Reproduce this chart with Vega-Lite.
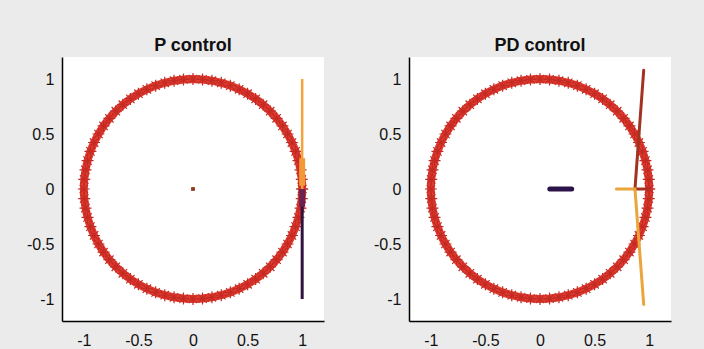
{
  "$schema": "https://vega.github.io/schema/vega-lite/v6.json",
  "background": "#ebebeb",
  "padding": {"left": 22, "top": 37, "right": 34, "bottom": 4},
  "config": {
    "font": "Liberation Sans",
    "view": {"fill": "white", "stroke": null},
    "title": {"fontSize": 18, "fontWeight": "bold", "color": "#111111", "offset": 2, "font": "Liberation Sans"},
    "axis": {"grid": false, "ticks": false, "domainColor": "#000000", "domainWidth": 1.5, "labelColor": "#111111", "labelFontSize": 16, "labelFont": "Liberation Sans", "title": null, "values": [-1, -0.5, 0, 0.5, 1], "labelExpr": "'' + datum.value"},
    "axisY": {"labelPadding": 8, "minExtent": 40, "maxExtent": 40},
    "axisX": {"labelPadding": 11}
  },
  "resolve": {"scale": {"color": "independent", "strokeWidth": "independent"}},
  "datasets": {
    "circle": [
      {"i":0,"x":1,"y":0},{"i":1,"x":0.9962,"y":0.0872},{"i":2,"x":0.9848,"y":0.1736},{"i":3,"x":0.9659,"y":0.2588},{"i":4,"x":0.9397,"y":0.342},{"i":5,"x":0.9063,"y":0.4226},{"i":6,"x":0.866,"y":0.5},{"i":7,"x":0.8192,"y":0.5736},{"i":8,"x":0.766,"y":0.6428},{"i":9,"x":0.7071,"y":0.7071},{"i":10,"x":0.6428,"y":0.766},{"i":11,"x":0.5736,"y":0.8192},{"i":12,"x":0.5,"y":0.866},{"i":13,"x":0.4226,"y":0.9063},{"i":14,"x":0.342,"y":0.9397},{"i":15,"x":0.2588,"y":0.9659},{"i":16,"x":0.1736,"y":0.9848},{"i":17,"x":0.0872,"y":0.9962},{"i":18,"x":0,"y":1},
      {"i":19,"x":-0.0872,"y":0.9962},{"i":20,"x":-0.1736,"y":0.9848},{"i":21,"x":-0.2588,"y":0.9659},{"i":22,"x":-0.342,"y":0.9397},{"i":23,"x":-0.4226,"y":0.9063},{"i":24,"x":-0.5,"y":0.866},{"i":25,"x":-0.5736,"y":0.8192},{"i":26,"x":-0.6428,"y":0.766},{"i":27,"x":-0.7071,"y":0.7071},{"i":28,"x":-0.766,"y":0.6428},{"i":29,"x":-0.8192,"y":0.5736},{"i":30,"x":-0.866,"y":0.5},{"i":31,"x":-0.9063,"y":0.4226},{"i":32,"x":-0.9397,"y":0.342},{"i":33,"x":-0.9659,"y":0.2588},{"i":34,"x":-0.9848,"y":0.1736},{"i":35,"x":-0.9962,"y":0.0872},{"i":36,"x":-1,"y":0},
      {"i":37,"x":-0.9962,"y":-0.0872},{"i":38,"x":-0.9848,"y":-0.1736},{"i":39,"x":-0.9659,"y":-0.2588},{"i":40,"x":-0.9397,"y":-0.342},{"i":41,"x":-0.9063,"y":-0.4226},{"i":42,"x":-0.866,"y":-0.5},{"i":43,"x":-0.8192,"y":-0.5736},{"i":44,"x":-0.766,"y":-0.6428},{"i":45,"x":-0.7071,"y":-0.7071},{"i":46,"x":-0.6428,"y":-0.766},{"i":47,"x":-0.5736,"y":-0.8192},{"i":48,"x":-0.5,"y":-0.866},{"i":49,"x":-0.4226,"y":-0.9063},{"i":50,"x":-0.342,"y":-0.9397},{"i":51,"x":-0.2588,"y":-0.9659},{"i":52,"x":-0.1736,"y":-0.9848},{"i":53,"x":-0.0872,"y":-0.9962},{"i":54,"x":0,"y":-1},
      {"i":55,"x":0.0872,"y":-0.9962},{"i":56,"x":0.1736,"y":-0.9848},{"i":57,"x":0.2588,"y":-0.9659},{"i":58,"x":0.342,"y":-0.9397},{"i":59,"x":0.4226,"y":-0.9063},{"i":60,"x":0.5,"y":-0.866},{"i":61,"x":0.5736,"y":-0.8192},{"i":62,"x":0.6428,"y":-0.766},{"i":63,"x":0.7071,"y":-0.7071},{"i":64,"x":0.766,"y":-0.6428},{"i":65,"x":0.8192,"y":-0.5736},{"i":66,"x":0.866,"y":-0.5},{"i":67,"x":0.9063,"y":-0.4226},{"i":68,"x":0.9397,"y":-0.342},{"i":69,"x":0.9659,"y":-0.2588},{"i":70,"x":0.9848,"y":-0.1736},{"i":71,"x":0.9962,"y":-0.0872},{"i":72,"x":1,"y":0}
    ],
    "pTraj": [
      {"s":"orange","o":0,"x":1.0,"y":1.0},{"s":"orange","o":1,"x":1.0,"y":0.0},
      {"s":"orangeDense","o":0,"x":1.0,"y":0.28},{"s":"orangeDense","o":1,"x":1.0,"y":0.03},
      {"s":"purple","o":0,"x":1.0,"y":0.0},{"s":"purple","o":1,"x":1.0,"y":-1.0},
      {"s":"purpleDense","o":0,"x":1.0,"y":0.0},{"s":"purpleDense","o":1,"x":1.0,"y":-0.16}
    ],
    "pOrigin": [{"x":0,"y":0}],
    "pdTraj": [
      {"s":"purple","o":0,"x":0.09,"y":0.0},{"s":"purple","o":1,"x":0.29,"y":0.0},
      {"s":"brown","o":0,"x":0.95,"y":1.08},{"s":"brown","o":1,"x":0.87,"y":0.0},{"s":"brown","o":2,"x":0.98,"y":0.0},
      {"s":"orange","o":0,"x":0.70,"y":0.0},{"s":"orange","o":1,"x":0.87,"y":0.0},{"s":"orange","o":2,"x":0.95,"y":-1.05}
    ]
  },
  "spacing": 45,
  "hconcat": [
    {
      "title": "P control",
      "width": 262,
      "height": 264,
      "layer": [
        {
          "data": {"name": "circle"},
          "mark": {"type": "line", "strokeWidth": 8, "color": "#df3a2e"},
          "encoding": {
            "x": {"field": "x", "type": "quantitative", "scale": {"domain": [-1.2, 1.2]}},
            "y": {"field": "y", "type": "quantitative", "scale": {"domain": [-1.2, 1.2]}},
            "order": {"field": "i", "type": "quantitative"}
          }
        },
        {
          "data": {"name": "circle"},
          "mark": {"type": "point", "shape": "M-1,0L1,0M0,-1L0,1M-0.7,-0.7L0.7,0.7M-0.7,0.7L0.7,-0.7", "size": 144, "filled": false, "stroke": "#c42a24", "strokeWidth": 1.2, "opacity": 1},
          "encoding": {
            "x": {"field": "x", "type": "quantitative"},
            "y": {"field": "y", "type": "quantitative"}
          }
        },
        {
          "data": {"name": "pTraj"},
          "mark": {"type": "line", "strokeCap": "butt"},
          "encoding": {
            "x": {"field": "x", "type": "quantitative"},
            "y": {"field": "y", "type": "quantitative"},
            "detail": {"field": "s"},
            "order": {"field": "o", "type": "quantitative"},
            "color": {"field": "s", "type": "nominal", "legend": null, "scale": {"domain": ["orange", "orangeDense", "purple", "purpleDense"], "range": ["#f2a33a", "#f39a38", "#2e1240", "#6a2350"]}},
            "strokeWidth": {"field": "s", "type": "nominal", "legend": null, "scale": {"type": "ordinal", "domain": ["orange", "orangeDense", "purple", "purpleDense"], "range": [2.5, 6, 3, 6]}}
          }
        },
        {
          "data": {"name": "pOrigin"},
          "mark": {"type": "square", "size": 14, "color": "#8b3a1a", "opacity": 1},
          "encoding": {
            "x": {"field": "x", "type": "quantitative"},
            "y": {"field": "y", "type": "quantitative"}
          }
        }
      ]
    },
    {
      "title": "PD control",
      "width": 262,
      "height": 264,
      "layer": [
        {
          "data": {"name": "circle"},
          "mark": {"type": "line", "strokeWidth": 8, "color": "#df3a2e"},
          "encoding": {
            "x": {"field": "x", "type": "quantitative", "scale": {"domain": [-1.2, 1.2]}},
            "y": {"field": "y", "type": "quantitative", "scale": {"domain": [-1.2, 1.2]}},
            "order": {"field": "i", "type": "quantitative"}
          }
        },
        {
          "data": {"name": "circle"},
          "mark": {"type": "point", "shape": "M-1,0L1,0M0,-1L0,1M-0.7,-0.7L0.7,0.7M-0.7,0.7L0.7,-0.7", "size": 144, "filled": false, "stroke": "#c42a24", "strokeWidth": 1.2, "opacity": 1},
          "encoding": {
            "x": {"field": "x", "type": "quantitative"},
            "y": {"field": "y", "type": "quantitative"}
          }
        },
        {
          "data": {"name": "pdTraj"},
          "mark": {"type": "line", "strokeCap": "round"},
          "encoding": {
            "x": {"field": "x", "type": "quantitative"},
            "y": {"field": "y", "type": "quantitative"},
            "detail": {"field": "s"},
            "order": {"field": "o", "type": "quantitative"},
            "color": {"field": "s", "type": "nominal", "legend": null, "scale": {"domain": ["purple", "brown", "orange"], "range": ["#2b1248", "#a33220", "#eba53a"]}},
            "strokeWidth": {"field": "s", "type": "nominal", "legend": null, "scale": {"type": "ordinal", "domain": ["purple", "brown", "orange"], "range": [5, 3, 3]}}
          }
        }
      ]
    }
  ]
}
